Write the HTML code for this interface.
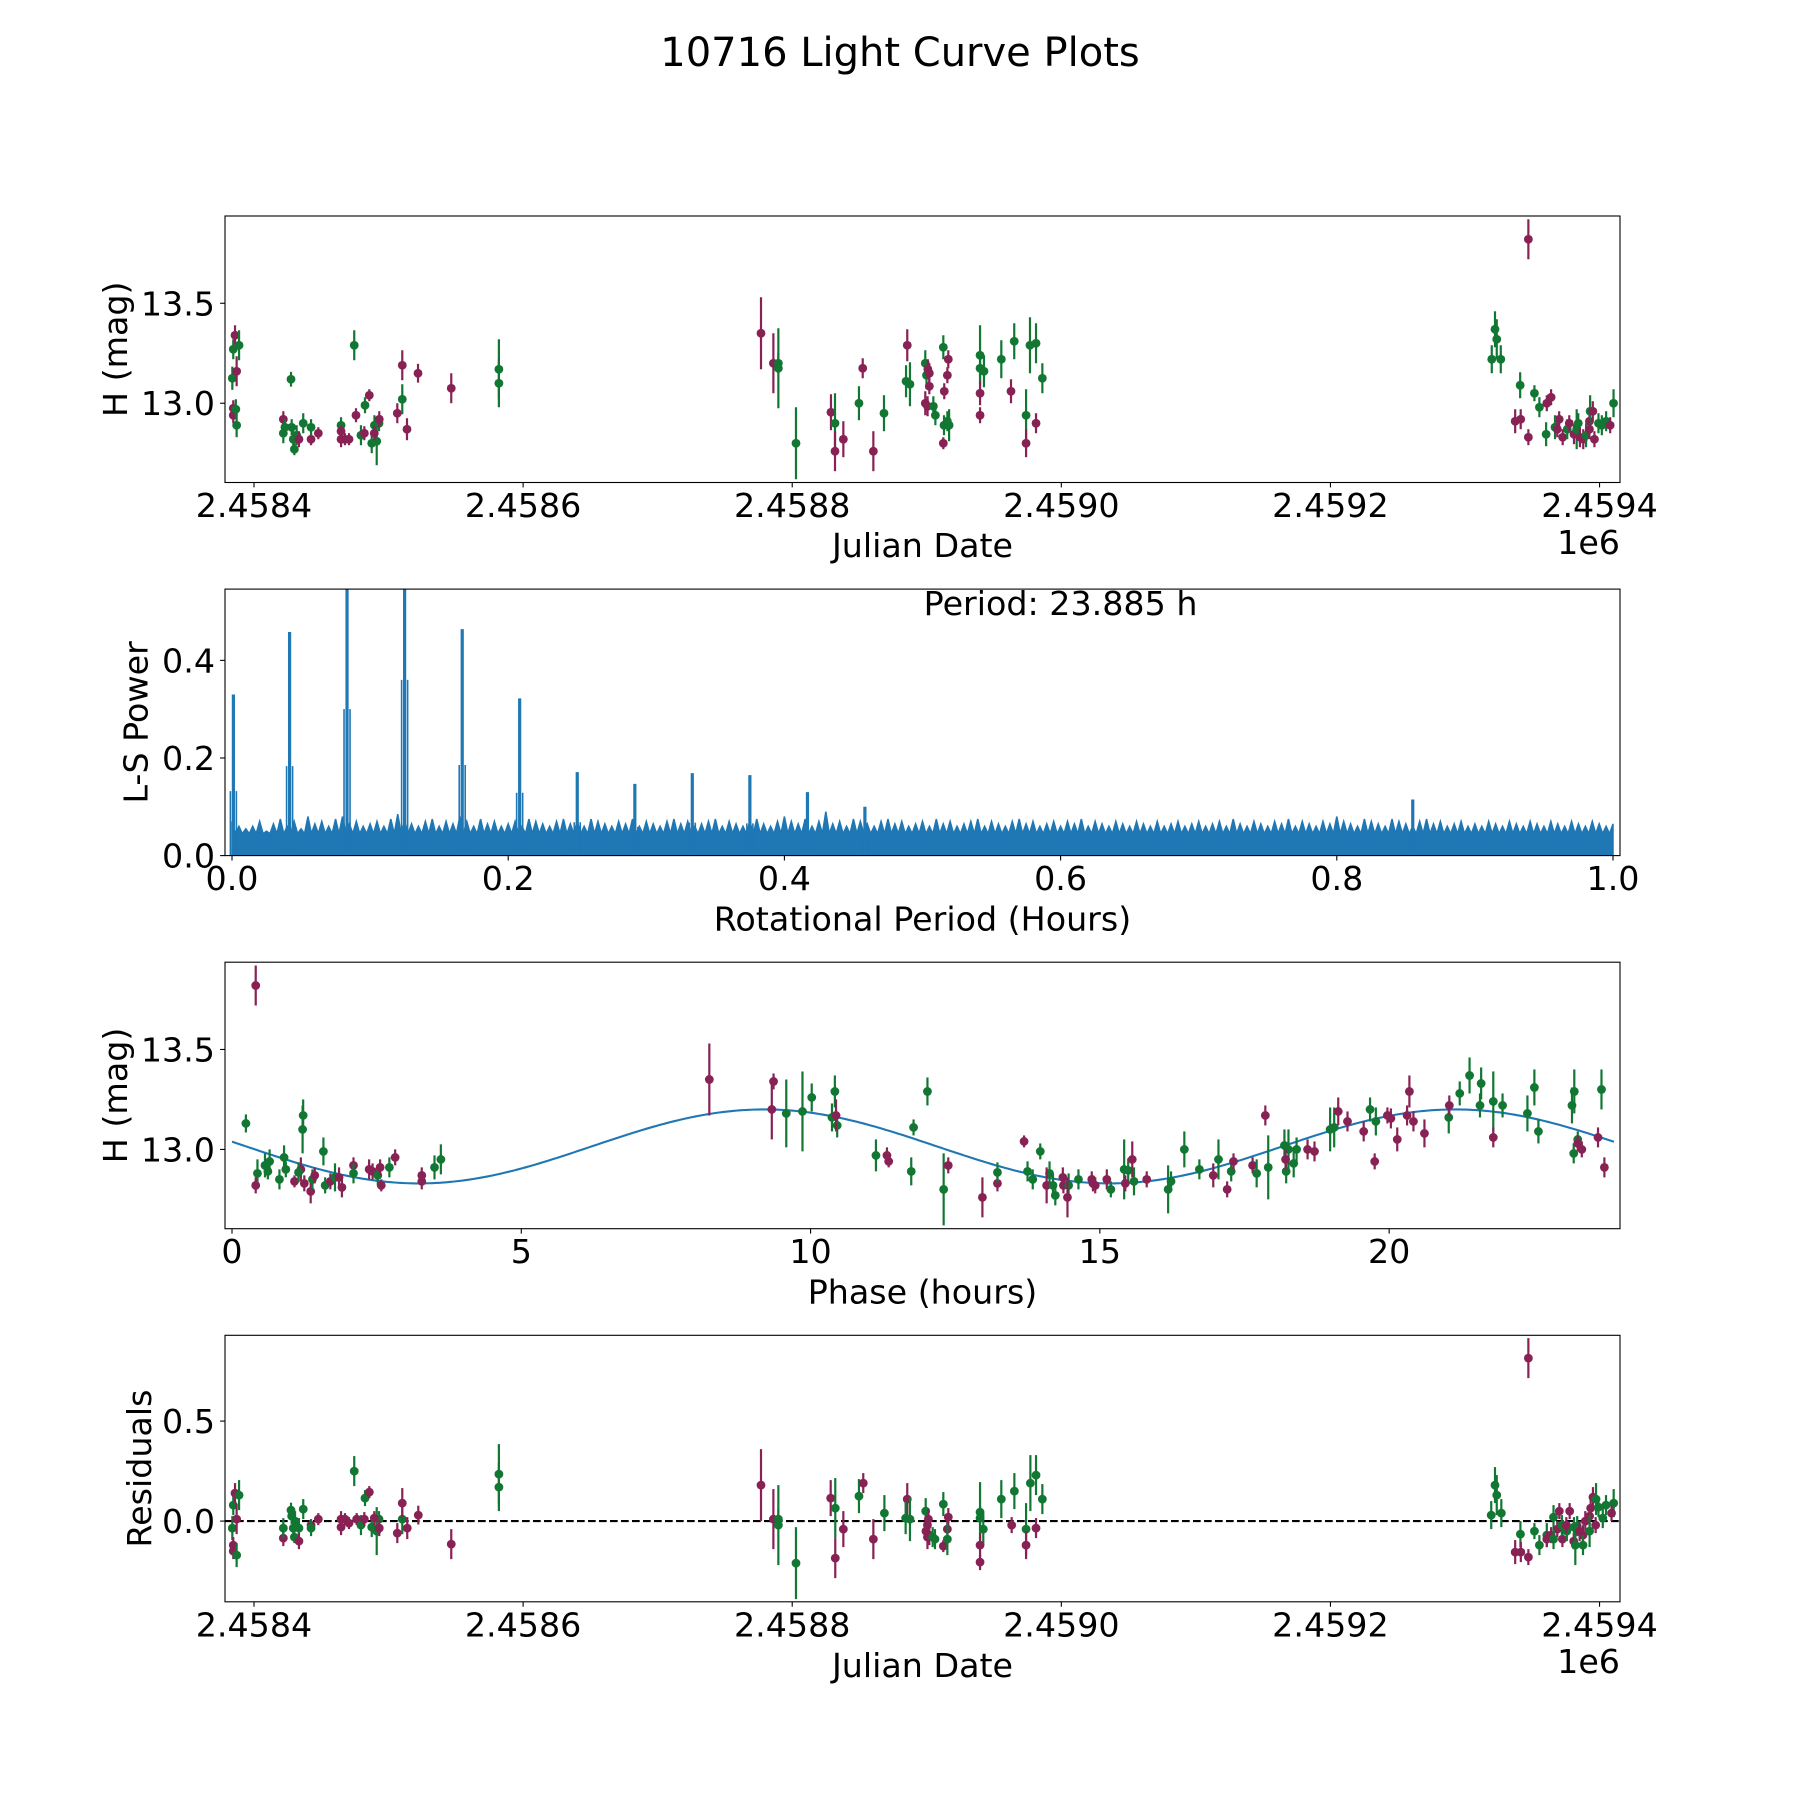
<!DOCTYPE html>
<html>
<head>
<meta charset="utf-8">
<style>
  html, body { margin: 0; padding: 0; background: #ffffff; }
  svg { display: block; }
  text { font-family: "DejaVu Sans", "Liberation Sans", sans-serif; fill: #000; }
</style>
</head>
<body>
<svg id="fig" xmlns="http://www.w3.org/2000/svg" width="1800" height="1800" viewBox="0 0 1800 1800">
  <rect x="0" y="0" width="1800" height="1800" fill="#ffffff"/>
  <text x="900" y="66" font-size="40" text-anchor="middle">10716 Light Curve Plots</text>
  <g id="content"></g>
</svg>
<script>
// ---------------- data: panel 1 (Julian date offset from 2458400, magnitude) ----------------
const lcJd = [-16.1,-15.4,-14.1,-11.1,-12.9,-15.4,-15.4,-13.5,-12.9,27.5,21.8,21.8,23.0,28.0,29.2,30.0,31.7,33.4,36.6,42.4,42.4,47.8,74.5,64.7,64.7,64.7,70.6,67.6,75.8,82.5,85.7,79.5,82.0,87.5,91.2,89.5,92.9,89.4,93.1,106.5,110.2,110.2,113.7,121.9,146.6,182,182,
  376.8,386,389.7,389.7,402.8,428.8,431.8,431.8,438,460.3,449.6,452.4,468.2,485.5,484.6,487.5,498.9,499.8,500.8,501.9,501.9,498.9,500.6,504.9,506.4,512.3,516,515.3,513,512.8,515.3,516.6,512.3,539.6,539.6,542.5,539.6,539.6,555.4,565,562.6,576.7,581.2,585.9,573.8,573.8,581.2,
  947.1,922.3,923.6,919.9,926.6,941,951.6,955.3,960.8,964,937.3,941.4,947.1,960.3,970,966.9,968.6,972.6,976,977.5,981,984.2,983,985.4,987.9,990,992.5,993,995,992.5,996.2,999.2,1001.7,1004.9,1007.9,1010.4];
const lcMag = [13.125,13.27,13.34,13.29,13.16,12.975,12.94,12.97,12.89,13.12,12.92,12.85,12.88,12.88,12.82,12.77,12.84,12.82,12.90,12.82,12.88,12.85,13.29,12.89,12.86,12.82,12.82,12.82,12.94,12.99,13.04,12.84,12.85,12.80,12.81,12.89,12.90,12.85,12.92,12.95,13.02,13.19,12.87,13.15,13.075,13.17,13.10,
  13.35,13.20,13.20,13.175,12.80,12.955,12.90,12.76,12.82,12.76,13.0,13.175,12.95,13.29,13.11,13.095,13.20,13.14,13.17,13.15,13.085,13.0,12.985,12.985,12.94,13.28,13.22,13.14,13.06,12.89,12.91,12.89,12.80,13.24,13.175,13.16,13.05,12.94,13.22,13.31,13.06,13.29,13.30,13.125,12.94,12.80,12.90,
  13.82,13.37,13.32,13.22,13.22,13.09,13.05,12.98,13.0,13.03,12.91,12.92,12.83,12.845,12.92,12.88,12.87,12.83,12.87,12.90,12.845,12.90,12.87,12.83,12.82,12.84,12.91,12.96,12.96,12.87,12.82,12.90,12.89,12.91,12.89,13.0];
const lcErr = [.058,.05,.05,.075,.075,.04,.04,.05,.06,.037,.04,.05,.04,.04,.05,.03,.05,.04,.05,.03,.04,.03,.075,.04,.03,.04,.03,.03,.035,.04,.03,.05,.035,.05,.12,.05,.04,.035,.04,.05,.075,.075,.055,.047,.075,.15,.12,
  .18,.15,.05,.2,.18,.09,.15,.1,.09,.1,.085,.05,.09,.08,.08,.11,.065,.07,.05,.05,.04,.06,.05,.05,.05,.06,.045,.04,.04,.05,.05,.08,.03,.15,.06,.08,.06,.04,.095,.09,.06,.14,.1,.075,.13,.07,.05,
  .1,.09,.1,.07,.07,.065,.04,.05,.04,.04,.06,.05,.04,.06,.04,.06,.04,.04,.05,.04,.05,.05,.1,.05,.05,.06,.05,.08,.05,.05,.04,.05,.05,.05,.04,.07];
const lcBand = [1,1,0,1,0,0,0,1,1,1,0,1,1,1,1,1,1,0,1,0,1,0,1,1,0,0,0,0,0,1,0,1,0,1,1,1,1,0,0,0,1,0,0,0,0,1,1,
  0,0,1,1,1,0,1,0,0,0,1,0,1,0,1,1,1,1,0,0,0,0,0,1,1,1,0,0,0,1,1,1,0,1,1,1,0,0,1,1,0,1,1,1,1,0,0,
  0,1,1,1,1,1,1,1,0,0,0,0,0,1,0,1,0,0,1,0,0,1,1,0,0,1,0,1,0,0,0,1,1,1,0,1];

// ---------------- data: periodogram ----------------
const lsNoise = [.07,.06,.055,.06,.07,.05,.065,.075,.06,.07,.055,.08,.065,.07,.06,.075,.08,.065,.07,.06,
  .065,.07,.06,.075,.085,.07,.065,.06,.07,.075,.06,.07,.065,.08,.07,.06,.075,.065,.07,.06,
  .065,.07,.06,.075,.07,.065,.06,.07,.075,.065,.07,.06,.075,.07,.065,.06,.07,.065,.075,.06,
  .07,.065,.06,.07,.075,.065,.07,.06,.065,.07,.075,.06,.07,.065,.06,.07,.075,.065,.06,.07,
  .08,.07,.065,.075,.06,.07,.09,.065,.07,.06,.075,.07,.065,.06,.07,.075,.065,.07,.06,.065,
  .07,.06,.075,.065,.07,.06,.065,.07,.075,.06,.07,.065,.06,.07,.075,.065,.07,.06,.065,.07,
  .06,.07,.065,.075,.06,.07,.065,.06,.07,.065,.06,.07,.065,.06,.07,.06,.065,.07,.06,.065,
  .07,.06,.065,.07,.06,.075,.065,.06,.07,.065,.06,.07,.065,.075,.06,.07,.065,.06,.07,.065,
  .08,.07,.065,.06,.075,.07,.065,.06,.075,.07,.065,.06,.07,.075,.065,.07,.06,.065,.07,.06,
  .065,.06,.07,.065,.06,.07,.065,.06,.07,.065,.06,.07,.065,.06,.07,.065,.06,.07,.065,.06,.065];
const lsNoiseFloor = 0.045;
const lsPeakFreq = [0.001,0.0417,0.0833,0.125,0.1667,0.2083,0.25,0.2917,0.3333,0.375,0.4167,0.4583,0.855];
const lsPeakPow = [0.33,0.458,0.75,0.9,0.464,0.322,0.171,0.147,0.169,0.165,0.13,0.10,0.115];
const periodLabel = "Period: 23.885 h";

// ---------------- data: phased light curve ----------------
const phPhase = [0.41,0.24,0.44,0.41,0.57,0.62,0.65,0.82,0.90,0.93,1.22,1.23,1.08,1.19,1.15,1.25,1.36,1.39,1.43,1.58,1.61,1.70,1.78,1.85,1.90,2.10,2.10,2.37,2.43,2.52,2.56,2.58,2.72,2.82,3.28,3.28,3.50,3.61,
  8.25,9.36,9.33,9.58,9.86,10.02,10.42,10.37,10.46,10.44,11.13,11.32,11.35,11.74,11.78,12.02,12.30,12.38,12.97,13.23,13.23,13.69,13.97,13.75,13.84,14.13,14.08,14.19,14.23,14.36,14.37,14.46,14.44,14.63,14.86,14.92,14.88,15.12,15.19,15.42,15.49,15.56,15.44,15.59,15.81,
  16.18,16.23,16.46,16.72,16.96,17.05,17.20,17.27,17.31,17.64,17.71,17.91,17.86,18.19,18.26,18.22,18.35,18.40,18.21,18.59,18.71,18.98,19.05,19.12,19.28,19.56,19.75,19.67,19.77,19.97,20.03,20.14,20.31,20.35,20.42,20.61,21.03,21.04,21.22,21.39,21.59,21.57,21.80,21.80,21.96,22.39,22.51,22.58,23.16,23.20,23.19,23.26,23.26,23.33,23.61,23.67,23.72];
const phMag = [13.82,13.13,12.88,12.82,12.92,12.89,12.94,12.85,12.96,12.90,13.10,13.17,12.84,12.90,12.885,12.83,12.79,12.85,12.87,12.99,12.82,12.84,12.86,12.86,12.81,12.92,12.88,12.90,12.89,12.87,12.91,12.82,12.91,12.96,12.87,12.84,12.91,12.95,
  13.35,13.34,13.20,13.18,13.19,13.26,13.29,13.16,13.12,13.17,12.97,12.97,12.94,12.89,13.11,13.29,12.80,12.92,12.76,12.83,12.885,13.04,12.99,12.89,12.85,12.88,12.82,12.82,12.77,12.86,12.82,12.82,12.76,12.85,12.85,12.82,12.83,12.85,12.80,12.90,12.895,12.95,12.83,12.84,12.85,
  12.80,12.84,13.0,12.90,12.87,12.95,12.80,12.89,12.94,12.92,12.88,12.91,13.17,13.02,13.0,12.89,12.93,13.0,12.95,13.0,12.99,13.10,13.11,13.19,13.14,13.09,12.94,13.20,13.14,13.17,13.155,13.05,13.17,13.29,13.14,13.08,13.16,13.22,13.28,13.37,13.33,13.22,13.24,13.06,13.22,13.18,13.31,13.09,13.22,13.29,12.98,13.05,13.03,13.0,13.06,13.30,12.91];
const phErr = [.1,.045,.07,.04,.06,.04,.06,.05,.06,.04,.12,.08,.03,.06,.05,.04,.06,.05,.04,.07,.04,.04,.07,.05,.05,.04,.05,.05,.04,.05,.04,.03,.05,.04,.04,.04,.06,.075,
  .18,.04,.15,.17,.2,.07,.08,.07,.06,.08,.08,.04,.03,.07,.04,.07,.18,.04,.1,.04,.05,.03,.04,.05,.05,.06,.09,.06,.05,.05,.04,.06,.1,.05,.04,.04,.04,.05,.04,.15,.06,.09,.04,.07,.04,
  .12,.05,.09,.05,.06,.1,.04,.05,.04,.04,.07,.16,.05,.08,.1,.06,.07,.06,.05,.05,.05,.11,.1,.07,.05,.05,.04,.06,.07,.04,.05,.06,.05,.08,.05,.07,.08,.05,.06,.09,.08,.06,.15,.05,.06,.09,.09,.06,.09,.11,.05,.04,.04,.04,.05,.1,.05];
const phBand = [0,1,1,0,1,1,1,1,1,1,1,1,0,0,1,0,0,1,0,1,1,0,1,0,0,0,1,0,0,1,0,0,1,0,0,0,1,1,
  0,0,0,1,1,1,1,1,1,0,1,0,0,1,1,1,1,0,0,0,1,0,1,1,1,1,0,1,1,0,0,1,0,1,0,0,0,0,1,1,1,0,0,1,0,
  1,1,1,1,0,1,0,1,0,0,1,1,0,1,1,1,1,1,0,0,0,1,1,0,0,0,0,1,1,0,0,0,0,0,0,0,1,0,1,1,1,1,1,0,1,1,1,1,1,1,1,1,0,0,0,1,0];
const modelParams = [13.015, 0.185, 9.2, 11.94]; // mean, amplitude, phase of max (h), half period (h)

// ---------------- data: residuals ----------------
const rsJd = [-16.1,-15.4,-14.1,-11.1,-12.9,-15.4,-15.4,-12.9,21.8,21.8,27.5,28,30.5,29.2,30,33.4,33.4,36.6,42.4,42.4,47.8,74.5,64.7,64.7,67.6,70.6,76.3,79.5,82,82.5,85.7,87.5,91.2,92.9,89.4,93.1,106.5,110.2,110.2,113.9,122.1,146.6,182,182,
  376.8,386,389.7,389.7,402.8,428.6,432,432,438,449.6,452.8,460.3,468.5,485.5,484.3,487.5,499.2,501.2,500.5,499.4,500.5,501.9,506.1,504.4,512.3,516,515.3,512.3,515.3,539.6,539.6,542,539.6,539.6,555.4,563.1,565.1,573.8,573.8,577,581.2,581.2,585.9,
  947.1,922.3,923.6,919.5,927,941.2,937.3,941.5,947.1,951.6,955.3,960.8,965.8,960.8,964,968.6,965.8,970.1,972.4,972,975.7,975.3,977.8,980.8,982,983.4,981,985.2,987.7,987.7,989.4,993.4,995.1,992.6,997.1,992.6,997.4,999.2,1002.4,1004.8,1010.5,1008.9];
const rsVal = [-0.035,0.08,0.14,0.13,0.01,-0.12,-0.15,-0.17,-0.085,-0.035,0.055,0.025,0.0,-0.035,-0.08,-0.035,-0.1,0.06,-0.02,-0.035,0.01,0.25,0.01,-0.03,0.01,-0.01,0.01,-0.02,0.01,0.115,0.145,-0.03,-0.05,0.01,0.015,-0.035,-0.06,0.01,0.09,-0.035,0.03,-0.115,0.235,0.17,
  0.18,0.01,0.01,-0.02,-0.21,0.115,0.065,-0.185,-0.04,0.125,0.19,-0.09,0.04,0.11,0.015,0.01,0.05,0.01,-0.02,-0.05,-0.08,-0.07,-0.09,-0.08,0.085,0.02,-0.04,-0.125,-0.09,0.045,0.015,-0.04,-0.12,-0.205,0.11,-0.02,0.15,-0.04,-0.12,0.19,0.23,-0.035,0.11,
  0.815,0.18,0.13,0.03,0.04,-0.065,-0.155,-0.155,-0.18,-0.05,-0.12,-0.07,0.02,-0.09,-0.07,-0.04,-0.09,0.05,-0.09,-0.02,-0.05,-0.02,0.05,-0.1,-0.12,-0.025,-0.03,-0.05,-0.07,-0.12,0.0,0.065,0.12,0.025,-0.02,-0.05,0.11,0.07,0.015,0.08,0.09,0.04];
const rsErr = [.06,.05,.05,.075,.075,.04,.04,.06,.04,.05,.037,.04,.05,.05,.03,.05,.04,.05,.03,.04,.03,.075,.04,.04,.03,.03,.03,.05,.035,.04,.03,.05,.12,.04,.035,.04,.05,.075,.075,.055,.047,.075,.15,.12,
  .18,.15,.05,.2,.18,.09,.15,.1,.09,.085,.05,.1,.09,.08,.08,.11,.065,.05,.05,.04,.06,.05,.05,.05,.06,.045,.04,.03,.08,.15,.06,.08,.06,.04,.095,.04,.09,.13,.07,.14,.1,.05,.075,
  .1,.09,.1,.07,.07,.065,.06,.05,.04,.04,.05,.06,.06,.04,.04,.04,.05,.04,.04,.05,.05,.04,.04,.04,.1,.05,.05,.05,.05,.05,.05,.05,.05,.05,.04,.08,.08,.05,.05,.05,.07,.04];
const rsBand = [1,1,0,1,0,0,0,1,0,1,1,1,1,1,1,1,0,1,0,1,0,1,0,0,0,0,0,1,0,1,0,1,1,1,0,0,0,1,0,0,0,0,1,1,
  0,0,1,1,1,0,1,0,0,1,0,0,1,0,1,1,1,0,0,0,0,0,1,1,1,0,0,0,1,1,1,1,0,0,1,0,1,1,0,1,1,0,1,
  0,1,1,1,1,1,0,0,0,1,1,1,1,0,0,0,1,0,0,1,1,0,0,0,1,1,1,0,0,1,0,0,0,0,0,1,1,1,1,1,1,0];

// ---------------- tick labels ----------------
const jdTicks = [0, 200, 400, 600, 800, 1000];
const jdTickLabels = ["2.4584","2.4586","2.4588","2.4590","2.4592","2.4594"];
const magTicks = [13.0, 13.5];
const magTickLabels = ["13.0","13.5"];
const lsXTicks = [0, 0.2, 0.4, 0.6, 0.8, 1.0];
const lsXTickLabels = ["0.0","0.2","0.4","0.6","0.8","1.0"];
const lsYTicks = [0, 0.2, 0.4];
const lsYTickLabels = ["0.0","0.2","0.4"];
const phTicks = [0, 5, 10, 15, 20];
const phTickLabels = ["0","5","10","15","20"];
const rsTicks = [0, 0.5];
const rsTickLabels = ["0.0","0.5"];

// ---------------- rendering ----------------
const NS = "http://www.w3.org/2000/svg";
const root = document.getElementById("content");
const COLORS = ["#882255", "#117733"];
const AX_L = 225, AX_W = 1395, AX_H = 266.5;
const ROW_TOPS = [216, 589.1, 962.2, 1335.3];

function mk(tag, attrs, parent) {
  const el = document.createElementNS(NS, tag);
  for (const k in attrs) el.setAttribute(k, attrs[k]);
  (parent || root).appendChild(el);
  return el;
}
function scale(d0, d1, r0, r1) { return v => r0 + (v - d0) / (d1 - d0) * (r1 - r0); }

function makeAxes(name, top, xlim, ylim) {
  const g = mk("g", {});
  
  
  const sx = scale(xlim[0], xlim[1], AX_L, AX_L + AX_W);
  const sy = scale(ylim[0], ylim[1], top + AX_H, top);
  return { g, sx, sy, top };
}
function drawFrame(ax) {
  const r = mk("rect", { x: AX_L, y: ax.top, width: AX_W, height: AX_H, fill: "none", stroke: "#000", "stroke-width": 1.1 }, ax.g);
  
  
}
function xTicks(ax, vals, labels, nameP) {
  const yb = ax.top + AX_H;
  vals.forEach((v, i) => {
    const x = ax.sx(v);
    const t = mk("line", { x1: x, y1: yb, x2: x, y2: yb + 4.9, stroke: "#000", "stroke-width": 1.1 }, ax.g);
    
    
    const tx = mk("text", { x: x, y: yb + 34.5, "font-size": 33.3, "text-anchor": "middle" }, ax.g);
    tx.textContent = labels[i];
    
    
  });
}
function yTicks(ax, vals, labels, nameP) {
  vals.forEach((v, i) => {
    const y = ax.sy(v);
    const t = mk("line", { x1: AX_L - 4.9, y1: y, x2: AX_L, y2: y, stroke: "#000", "stroke-width": 1.1 }, ax.g);
    
    
    const tx = mk("text", { x: AX_L - 10, y: y + 12, "font-size": 33.3, "text-anchor": "end" }, ax.g);
    tx.textContent = labels[i];
    
    
  });
}
function xLabel(ax, txt, cy, name) {
  const t = mk("text", { x: AX_L + AX_W / 2, y: cy + 12, "font-size": 33.3, "text-anchor": "middle" }, ax.g);
  t.textContent = txt;
  
  
}
function yLabel(ax, txt, cx, name) {
  const cy = ax.top + AX_H / 2;
  const t = mk("text", { x: 0, y: 0, "font-size": 33.3, "text-anchor": "middle", transform: `translate(${cx + 12},${cy}) rotate(-90)` }, ax.g);
  t.textContent = txt;
  
  
}
function offsetText(ax, cy, name) {
  const t = mk("text", { x: AX_L + AX_W, y: cy + 12, "font-size": 33.3, "text-anchor": "end" }, ax.g);
  t.textContent = "1e6";
  
  
}
function errorbars(ax, xs, ys, es, bs, nameP) {
  const clipId = "clip-" + nameP;
  const cp = mk("clipPath", { id: clipId }, ax.g);
  mk("rect", { x: AX_L, y: ax.top, width: AX_W, height: AX_H }, cp);
  const g = mk("g", { "clip-path": `url(#${clipId})` }, ax.g);
  
  
  for (let i = 0; i < xs.length; i++) {
    const c = COLORS[bs[i]];
    const x = ax.sx(xs[i]);
    const l = mk("line", { x1: x, x2: x, y1: ax.sy(ys[i] - es[i]), y2: ax.sy(ys[i] + es[i]), stroke: c, "stroke-width": 2.2 }, g);
    
    
    const p = mk("circle", { cx: x, cy: ax.sy(ys[i]), r: 4.4, fill: c }, g);
    
    
  }
}

// Panel 1: light curve vs Julian date
const jdLim = [-21.55, 1015.2];
const magLim = [12.6035, 13.9365];
const ax1 = makeAxes("light-curve-panel", ROW_TOPS[0], jdLim, magLim);
errorbars(ax1, lcJd, lcMag, lcErr, lcBand, "lc");
drawFrame(ax1);
xTicks(ax1, jdTicks, jdTickLabels, "lc");
yTicks(ax1, magTicks, magTickLabels, "lc");
xLabel(ax1, "Julian Date", 545, "lc-x-axis-title");
yLabel(ax1, "H (mag)", 115, "lc-y-axis-title");
offsetText(ax1, 542, "lc-x-offset-text");

// Panel 2: periodogram
const ax2 = makeAxes("periodogram-panel", ROW_TOPS[1], [-0.00507, 1.00507], [0, 0.546]);
{
  const cp = mk("clipPath", { id: "clip-ls" }, ax2.g);
  mk("rect", { x: AX_L, y: ax2.top, width: AX_W, height: AX_H }, cp);
  const g = mk("g", { "clip-path": "url(#clip-ls)" }, ax2.g);
  
  
  const step = 1 / (lsNoise.length - 1);
  let d = `M${ax2.sx(0)},${ax2.sy(0)}`;
  for (let i = 0; i < lsNoise.length; i++) {
    const f = i * step;
    d += ` L${ax2.sx(f)},${ax2.sy(lsNoise[i])}`;
    if (i < lsNoise.length - 1) d += ` L${ax2.sx(f + step / 2)},${ax2.sy(lsNoiseFloor)}`;
  }
  d += ` L${ax2.sx(1)},${ax2.sy(0)} Z`;
  const band = mk("path", { d: d, fill: "#1f77b4", stroke: "#1f77b4", "stroke-width": 1.5, "stroke-linejoin": "miter" }, g);
  
  
  for (let i = 0; i < lsPeakFreq.length; i++) {
    const x = ax2.sx(lsPeakFreq[i]);
    const pk = mk("line", { x1: x, x2: x, y1: ax2.sy(0), y2: ax2.sy(lsPeakPow[i]), stroke: "#1f77b4", "stroke-width": 3.2 }, g);
    
    
    [-3, 3].forEach(dx => {
      const sh = mk("line", { x1: x + dx, x2: x + dx, y1: ax2.sy(0), y2: ax2.sy(lsPeakPow[i] * 0.4), stroke: "#1f77b4", "stroke-width": 1.6 }, g);
      
      
    });
  }
}
drawFrame(ax2);
xTicks(ax2, lsXTicks, lsXTickLabels, "ls");
yTicks(ax2, lsYTicks, lsYTickLabels, "ls");
xLabel(ax2, "Rotational Period (Hours)", 918.5, "ls-x-axis-title");
yLabel(ax2, "L-S Power", 135.5, "ls-y-axis-title");
{
  const t = mk("text", { x: ax2.sx(0.6), y: 615, "font-size": 33.3, "text-anchor": "middle" }, ax2.g);
  t.textContent = periodLabel;
  
  
}

// Panel 3: phased light curve
const ax3 = makeAxes("phased-curve-panel", ROW_TOPS[2], [-0.121, 23.99], magLim);
{
  const cp = mk("clipPath", { id: "clip-model" }, ax3.g);
  mk("rect", { x: AX_L, y: ax3.top, width: AX_W, height: AX_H }, cp);
  let d = "";
  const P = 23.885;
  for (let i = 0; i <= 400; i++) {
    const p = P * i / 400;
    const m = modelParams[0] + modelParams[1] * Math.cos(2 * Math.PI * (p - modelParams[2]) / modelParams[3]);
    d += (i ? " L" : "M") + ax3.sx(p) + "," + ax3.sy(m);
  }
  const curve = mk("path", { d: d, fill: "none", stroke: "#1f77b4", "stroke-width": 2.1, "clip-path": "url(#clip-model)" }, ax3.g);
  
  
}
errorbars(ax3, phPhase, phMag, phErr, phBand, "ph");
drawFrame(ax3);
xTicks(ax3, phTicks, phTickLabels, "ph");
yTicks(ax3, magTicks, magTickLabels, "ph");
xLabel(ax3, "Phase (hours)", 1291.5, "ph-x-axis-title");
yLabel(ax3, "H (mag)", 115, "ph-y-axis-title");

// Panel 4: residuals
const ax4 = makeAxes("residuals-panel", ROW_TOPS[3], jdLim, [-0.4035, 0.929]);
{
  const z = mk("line", { x1: AX_L, x2: AX_L + AX_W, y1: ax4.sy(0), y2: ax4.sy(0), stroke: "#000", "stroke-width": 2.1, "stroke-dasharray": "7.7 3.3" }, ax4.g);
  
  
}
errorbars(ax4, rsJd, rsVal, rsErr, rsBand, "rs");
drawFrame(ax4);
xTicks(ax4, jdTicks, jdTickLabels, "rs");
yTicks(ax4, rsTicks, rsTickLabels, "rs");
xLabel(ax4, "Julian Date", 1665, "rs-x-axis-title");
yLabel(ax4, "Residuals", 139, "rs-y-axis-title");
offsetText(ax4, 1661, "rs-x-offset-text");
</script>
</body>
</html>
